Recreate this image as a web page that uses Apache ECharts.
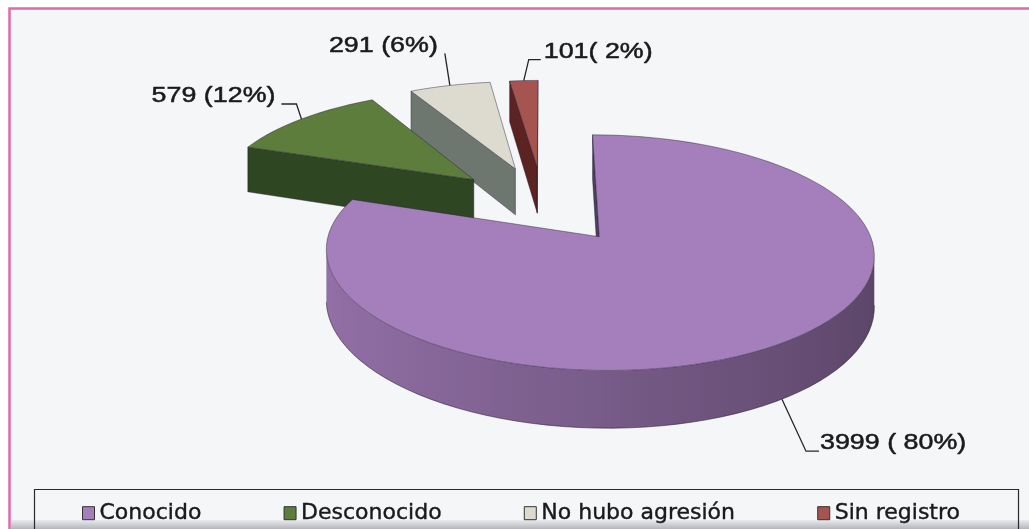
<!DOCTYPE html>
<html>
<head>
<meta charset="utf-8">
<script src="https://cdn.jsdelivr.net/npm/echarts@6/dist/echarts.min.js"></script>
<style>
  html, body { margin: 0; padding: 0; background: #fff; }
  #chart { width: 1029px; height: 529px; }
</style>
</head>
<body>
<div id="chart"></div>
<script>
// data
var categories = ['Conocido', 'Desconocido', 'No hubo agresión', 'Sin registro'];
var values = [3999, 579, 291, 101];
var labels = ['3999 ( 80%)', '579 (12%)', '291 (6%)', '101( 2%)'];

// styles
var topColors = ['#a57ebc', '#5d7d3d', '#dddbcf', '#a5544f'];
var faceColors = ['#4f3e64', '#2e4722', '#6e7670', '#5c2323'];
// leader: [dx1, dy1, dx2, textDx, textDy, align, anchor on bottom edge]
var leaders = [
  [24, 52, 13, 1, -8, 'left', 1],
  [-5, -15, -15, -6, -8, 'right', 0],
  [-5, -32, 0, -7, -8, 'right', 0],
  [5, -21, 12, 3, -8, 'left', 0]
];

// fake 3D view
var CX = 543, CY = 204, RX = 261, RY = 107, PERSP = 0.13, EXPLODE = 0.36, DEPTH = 48;

var total = values.reduce(function (a, b) { return a + b; }, 0);
var starts = [], acc = 0;
values.forEach(function (v) { starts.push(acc / total * Math.PI * 2); acc += v; });

function proj(u, v, z) {
  var s = 1 / (1 + PERSP * v);
  return [CX + RX * u * s, CY - RY * v * s + DEPTH * z * s];
}
function shade(hex, f) {
  var n = parseInt(hex.slice(1), 16);
  var r = Math.min(255, Math.round((n >> 16 & 255) * f));
  var g = Math.min(255, Math.round((n >> 8 & 255) * f));
  var b = Math.min(255, Math.round((n & 255) * f));
  return 'rgb(' + r + ',' + g + ',' + b + ')';
}
function area(pts) {
  var s = 0;
  for (var i = 0; i < pts.length; i++) {
    var p = pts[i], q = pts[(i + 1) % pts.length];
    s += p[0] * q[1] - q[0] * p[1];
  }
  return s;
}

function makeRender(i) {
  return function (params, api) {
    var a0 = starts[i];
    var a1 = a0 + api.value(0) / total * Math.PI * 2;
    var m = (a0 + a1) / 2;
    var ou = EXPLODE * Math.sin(m), ov = EXPLODE * Math.cos(m);
    function P(t, r, z) { return proj(ou + r * Math.sin(t), ov + r * Math.cos(t), z); }
    var edge = 'rgba(35,25,45,0.55)';
    var kids = [];

    // outer rim: visible part as one band with a shading gradient
    var n = Math.max(2, Math.ceil((a1 - a0) / (Math.PI / 60)));
    var topPts = [], botPts = [], shades = [];
    for (var k = 0; k < n; k++) {
      var t0 = a0 + (a1 - a0) * k / n, t1 = a0 + (a1 - a0) * (k + 1) / n;
      var quad = [P(t0, 1, 0), P(t1, 1, 0), P(t1, 1, 1), P(t0, 1, 1)];
      if (area(quad) < 0) {
        if (!topPts.length) { topPts.push(quad[0]); botPts.push(quad[3]); shades.push([quad[0][0], t0]); }
        topPts.push(quad[1]); botPts.push(quad[2]); shades.push([quad[1][0], t1]);
      }
    }
    if (topPts.length > 1) {
      var xs = shades.map(function (s) { return s[0]; });
      var xMin = Math.min.apply(null, xs), xMax = Math.max.apply(null, xs);
      var stops = shades.map(function (s) {
        return { offset: (s[0] - xMin) / Math.max(1, xMax - xMin), color: shade(topColors[i], 0.72 - 0.17 * Math.sin(s[1])) };
      }).sort(function (a, b) { return a.offset - b.offset; });
      var band = topPts.concat(botPts.slice().reverse());
      kids.push({ type: 'polygon', shape: { points: band },
        style: { fill: new echarts.graphic.LinearGradient(xMin, 0, xMax, 0, stops, true) } });
      kids.push({ type: 'polyline', shape: { points: botPts }, style: { stroke: edge, lineWidth: 1, fill: null } });
    }

    // radial faces
    var faces = [
      [P(0, 0, 0), P(a0, 1, 0), P(a0, 1, 1), P(0, 0, 1)],
      [P(0, 0, 0), P(0, 0, 1), P(a1, 1, 1), P(a1, 1, 0)]
    ];
    faces.forEach(function (f) {
      if (area(f) < 0) {
        kids.push({ type: 'polygon', shape: { points: f }, style: { fill: faceColors[i], stroke: edge, lineWidth: 0.8 } });
      }
    });

    // top face
    var top = [P(0, 0, 0)];
    for (var j = 0; j <= n; j++) top.push(P(a0 + (a1 - a0) * j / n, 1, 0));
    kids.push({ type: 'polygon', shape: { points: top }, style: { fill: topColors[i], stroke: edge, lineWidth: 0.8 } });

    // label with leader line
    var L = leaders[i];
    var p0 = P(m, 1, L[6]);
    var p1 = [p0[0] + L[0], p0[1] + L[1]];
    var p2 = [p1[0] + L[2], p1[1]];
    kids.push({ type: 'polyline', shape: { points: [p0, p1, p2] }, style: { stroke: '#262626', lineWidth: 1.3, fill: null } });
    kids.push({
      type: 'text', x: p2[0] + L[3], y: p2[1] + L[4], scaleX: 1.22,
      style: { text: labels[i], x: 0, y: 0, align: L[5], verticalAlign: 'middle',
        fill: '#1a1a1a', stroke: '#1a1a1a', lineWidth: 0.5,
        font: '22px "Liberation Sans", Arial, sans-serif' }
    });
    return { type: 'group', children: kids };
  };
}

var chart = echarts.init(document.getElementById('chart'));
chart.setOption({
  backgroundColor: '#ffffff',
  animation: false,
  graphic: [
    { type: 'rect', z: 0, silent: true, shape: { x: 9.5, y: 8.5, width: 1040, height: 540 },
      style: { fill: '#f5f6f8', stroke: '#e06aaa', lineWidth: 2.5 } },
    { type: 'rect', z: 1, silent: true, shape: { x: 11, y: 520, width: 1018, height: 9 },
      style: { fill: new echarts.graphic.LinearGradient(0, 0, 0, 1, [
        { offset: 0, color: '#e9ebee' }, { offset: 1, color: '#b3b6bc' }]) } },
    { type: 'rect', z: 5, silent: true, shape: { x: 34.5, y: 489.5, width: 984, height: 60 },
      style: { fill: null, stroke: '#2a2a2a', lineWidth: 1.2 } }
  ],
  legend: {
    data: categories,
    left: 77,
    top: 497,
    itemGap: 82,
    icon: 'rect',
    itemWidth: 12,
    itemHeight: 13,
    selectedMode: false,
    itemStyle: { borderColor: '#333', borderWidth: 1 },
    textStyle: { fontFamily: 'DejaVu Sans', fontSize: 22, color: '#1a1a1a',
      textBorderColor: '#1a1a1a', textBorderWidth: 0.4 }
  },
  series: categories.map(function (name, i) {
    var m = starts[i] + values[i] / total * Math.PI;
    return {
      type: 'custom',
      name: name,
      coordinateSystem: 'none',
      silent: true,
      z: 10 - Math.round(Math.cos(m) * 5),
      itemStyle: { color: topColors[i] },
      data: [values[i]],
      renderItem: makeRender(i)
    };
  })
});
</script>
</body>
</html>
